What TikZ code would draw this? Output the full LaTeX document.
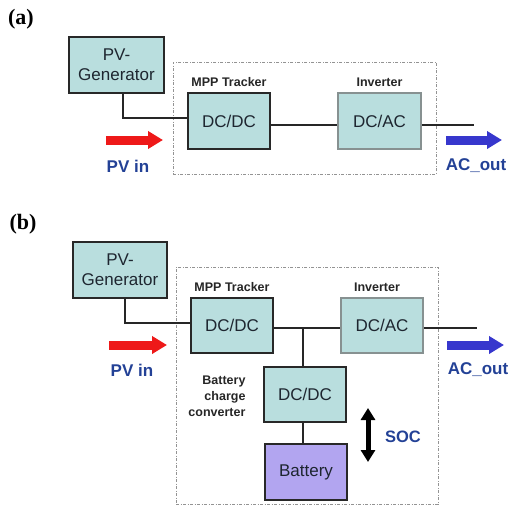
\documentclass[tikz,border=0pt]{standalone}
\usepackage{fontspec}
\setmainfont{Liberation Sans}
\newfontfamily\lblfont{Liberation Serif}
\usetikzlibrary{arrows.meta,calc}
\definecolor{boxfill}{RGB}{185,222,222}
\definecolor{batfill}{RGB}{178,165,240}
\definecolor{bordark}{RGB}{40,40,40}
\definecolor{borgray}{RGB}{135,145,145}
\definecolor{txtdark}{RGB}{30,38,48}
\definecolor{lblblue}{RGB}{35,65,150}
\definecolor{arrblue}{RGB}{55,55,205}
\definecolor{arrred}{RGB}{238,25,25}
\begin{document}
\begin{tikzpicture}[x=1pt,y=-1pt,
  blk/.style={draw=bordark,line width=1.8pt,fill=boxfill,inner sep=0pt,
    text=txtdark,font=\fontsize{17}{20}\selectfont,align=center},
  gblk/.style={blk,draw=borgray},
  batblk/.style={blk,fill=batfill},
  caption/.style={font=\fontsize{12.5}{15}\selectfont\bfseries,text=black!85},
  io/.style={font=\fontsize{17}{20}\selectfont\bfseries,text=lblblue},
  wire/.style={line width=2pt,draw=black!85},
  frame/.style={draw=gray!85,line width=1pt,dash pattern=on 3pt off 1.5pt on 1pt off 1.5pt},
  redarr/.style={draw=arrred,line width=9pt,-{Triangle[length=15pt,width=17pt]}},
  bluearr/.style={draw=arrblue,line width=9pt,-{Triangle[length=15pt,width=17pt]}},
  socarr/.style={draw=black,line width=5pt,{Triangle[length=12pt,width=14pt]}-{Triangle[length=12pt,width=14pt]}},
  tag/.style={font=\lblfont\fontsize{22}{24}\selectfont\bfseries}
]
\useasboundingbox (0,0) rectangle (509,506);

% ---------------- panel (a)
\node[tag] (ta) at (21,19) {(a)};
\node[frame,minimum width=263pt,minimum height=112pt,inner sep=0pt] (fa) at (304.5,118) {};
\node[blk,minimum width=95pt,minimum height=56pt] (pva) at (116.5,65) {PV-\\Generator};
\node[blk,minimum width=82pt,minimum height=56pt] (dcda) at (229,121) {DC/DC};
\node[gblk,minimum width=83pt,minimum height=56pt] (dcaa) at (379.5,121) {DC/AC};
\node[caption] (mppa) at (229,82) {MPP Tracker};
\node[caption] (inva) at (379.5,82) {Inverter};
\coordinate (outa) at (474,125);
\draw[wire] ($(pva.south)+(6.5,0)$) |- ([yshift=3pt]dcda.west);
\draw[wire] ([yshift=-4pt]dcda.east) -- ([yshift=-4pt]dcaa.west);
\draw[wire] ([yshift=-4pt]dcaa.east) -- (outa);
\coordinate (ra1) at (106,140);
\coordinate (ra2) at (163,140);
\draw[redarr] (ra1) -- (ra2);
\coordinate (ba1) at (446,140);
\coordinate (ba2) at (502,140);
\draw[bluearr] (ba1) -- (ba2);
\node[io] (pvina) at (128,166) {PV in};
\node[io] (acouta) at (476,166) {AC\_out};

% ---------------- panel (b)
\node[tag] (tb) at (23,224) {(b)};
\node[frame,minimum width=262pt,minimum height=237pt,inner sep=0pt] (fb) at (307,385.5) {};
\node[blk,minimum width=94pt,minimum height=56pt] (pvb) at (120,270) {PV-\\Generator};
\node[blk,minimum width=82pt,minimum height=55pt] (dcdb) at (232,325.5) {DC/DC};
\node[gblk,minimum width=82pt,minimum height=55pt] (dcab) at (382,325.5) {DC/AC};
\node[blk,minimum width=82pt,minimum height=55pt] (bcc) at (305,394.5) {DC/DC};
\node[batblk,minimum width=82pt,minimum height=56pt] (bat) at (306,472) {Battery};
\node[caption] (mppb) at (232,287) {MPP Tracker};
\node[caption] (invb) at (377,287) {Inverter};
\node[caption,align=right,anchor=east,font=\fontsize{12.5}{16}\selectfont\bfseries] (bccl) at (249,396) {Battery\\charge\\converter};
\coordinate (outb) at (477,328);
\draw[wire] ($(pvb.south)+(5,0)$) |- ([yshift=2.5pt]dcdb.west);
\draw[wire] ([yshift=-2.5pt]dcdb.east) -- ([yshift=-2.5pt]dcab.west);
\draw[wire] ([yshift=-2.5pt]dcab.east) -- (outb);
\draw[wire] ([xshift=-2pt]bcc.north) -- ([xshift=-2pt,yshift=-2.5pt]bcc.north |- dcdb.east);
\draw[wire] ([xshift=-2pt]bcc.south) -- ([xshift=-2pt]bcc.south |- bat.north);
\coordinate (rb1) at (109,345);
\coordinate (rb2) at (167,345);
\draw[redarr] (rb1) -- (rb2);
\coordinate (bb1) at (447,345);
\coordinate (bb2) at (504,345);
\draw[bluearr] (bb1) -- (bb2);
\node[io] (pvinb) at (132,370) {PV in};
\node[io] (acoutb) at (478,370) {AC\_out};
\coordinate (s1) at (368,408);
\coordinate (s2) at (368,462);
\draw[socarr] (s1) -- (s2);
\node[io,font=\fontsize{16.5}{20}\selectfont\bfseries] (soc) at (403,437) {SOC};
\end{tikzpicture}
\end{document}
